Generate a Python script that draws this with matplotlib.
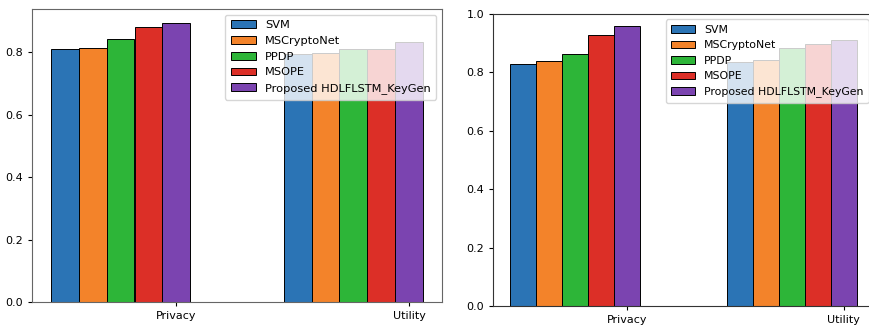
import matplotlib
matplotlib.use("Agg")
import matplotlib.pyplot as plt
import numpy as np

categories = ["Privacy", "Utility"]
methods = ["SVM", "MSCryptoNet", "PPDP", "MSOPE", "Proposed HDLFLSTM_KeyGen"]
colors = ["#2b74b5", "#f3832a", "#2db538", "#dc2f27", "#7b44b0"]

# left chart values (per method: Privacy, Utility)
left_vals = {
    "SVM": [0.810, 0.794],
    "MSCryptoNet": [0.815, 0.799],
    "PPDP": [0.843, 0.809],
    "MSOPE": [0.881, 0.810],
    "Proposed HDLFLSTM_KeyGen": [0.894, 0.833],
}
# right chart values
right_vals = {
    "SVM": [0.828, 0.837],
    "MSCryptoNet": [0.838, 0.842],
    "PPDP": [0.862, 0.885],
    "MSOPE": [0.929, 0.898],
    "Proposed HDLFLSTM_KeyGen": [0.959, 0.911],
}

W, H = 870, 325
fig = plt.figure(figsize=(W / 100, H / 100), dpi=100)

def px_axes(x0, y0, x1, y1):
    return fig.add_axes([x0 / W, 1 - y1 / H, (x1 - x0) / W, (y1 - y0) / H])

ax1 = px_axes(32, 9, 442, 302)
ax2 = px_axes(493, 14, 874, 306)

width = 0.12
x = np.arange(len(categories))

def draw(ax, vals, ylim_top=None, spine_color="#555555", lfs=8.2, bpad=0.5):
    for i, m in enumerate(methods):
        ax.bar(x + (i - 4) * width, vals[m], width, color=colors[i],
               edgecolor="black", linewidth=0.7, label=m)
    ax.set_xticks(x)
    ax.set_xticklabels(categories, fontsize=8)
    ax.tick_params(axis="y", labelsize=8, length=3)
    ax.tick_params(axis="x", length=3)
    if ylim_top is not None:
        ax.set_ylim(0, ylim_top)
    for s in ax.spines.values():
        s.set_color(spine_color)
    ax.legend(loc="upper right", fontsize=lfs, handlelength=2.2,
              labelspacing=0.5, borderpad=bpad, handletextpad=0.8)

draw(ax1, left_vals, spine_color="#666666", lfs=8.2)
draw(ax2, right_vals, ylim_top=1.0, spine_color="#333333", lfs=7.8)

fig.savefig("out.png", dpi=100)
